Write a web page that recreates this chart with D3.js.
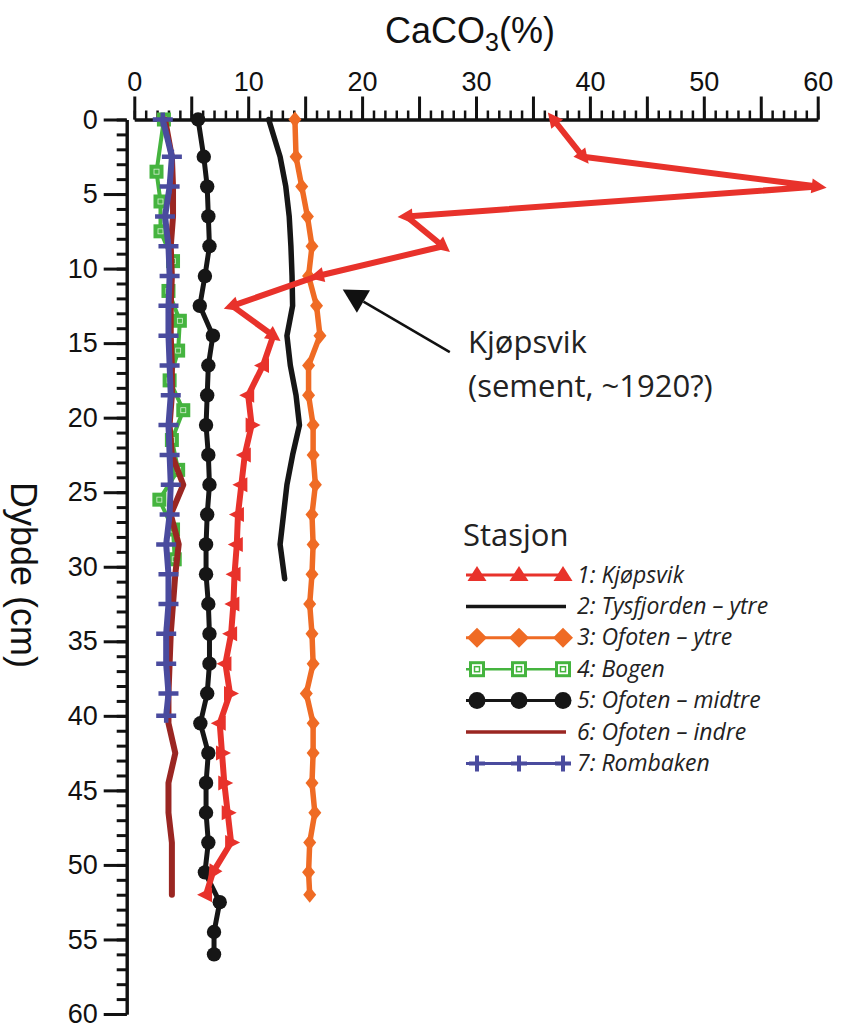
<!DOCTYPE html>
<html><head><meta charset="utf-8">
<script src="https://cdn.jsdelivr.net/npm/d3@7"></script>
<style>
html,body{margin:0;padding:0;background:#fff;}
svg{display:block;}
</style></head>
<body>
<svg id="chart" width="841" height="1028"></svg>
<script>
// ---------------- DATA ----------------
const xTickMajor = [0,5,10,15,20,25,30,35,40,45,50,55,60];
const xTickLabels = [0,10,20,30,40,50,60];
const yTickMajor = [0,5,10,15,20,25,30,35,40,45,50,55,60];

const stationNames = ["1: Kjøpsvik","2: Tysfjorden – ytre","3: Ofoten – ytre","4: Bogen","5: Ofoten – midtre","6: Ofoten – indre","7: Rombaken"];

// depths (cm)
const depthA = [0,2.5,4.5,6.5,8.5,10.5,12.5,14.5,16.5,18.5,20.5,22.5,24.5,26.5,28.5,30.5,32.5,34.5,36.5,38.5,40.5,42.5,44.5,46.5,48.5,50.5,52];
const depthTys = [0,2.5,4.5,6.5,8.5,10.5,12.5,14.5,16.5,18.5,20.5,22.5,24.5,26.5,28.5,30.8];
const depthBogen = [0,3.5,5.5,7.5,9.5,11.5,13.5,15.5,17.5,19.5,21.5,23.5,25.5,27.5,29.5];
const depthMid = [0,2.5,4.5,6.5,8.5,10.5,12.5,14.5,16.5,18.5,20.5,22.5,24.5,26.5,28.5,30.5,32.5,34.5,36.5,38.5,40.5,42.5,44.5,46.5,48.5,50.5,52.5,54.5,56];
const depthRom = [0,2.5,4.5,6.5,8.5,10.5,12.5,14.5,16.5,18.5,20.5,22.5,24.5,26.5,28.5,30.5,32.5,34.5,36.5,38.5,40];

// CaCO3 (%)
const kjopsvik = [36.8,39.4,60.0,23.9,27.1,16.1,8.6,12.2,11.3,10.0,10.3,9.7,9.4,9.1,9.0,8.8,8.7,8.5,8.0,8.4,7.5,7.7,7.9,8.2,8.5,6.9,6.3];
const tysfjorden = [11.8,12.8,13.3,13.6,13.75,13.85,13.9,13.4,13.7,14.2,14.5,13.9,13.4,13.1,12.8,13.2];
const ofotenYtre = [14.1,14.2,14.7,15.2,15.6,15.3,16.0,16.3,15.3,15.3,15.7,15.7,15.9,15.6,15.7,15.6,15.4,15.6,15.7,15.1,15.7,15.7,15.6,15.85,15.4,15.3,15.4];
const bogen = [2.6,1.95,2.3,2.3,3.4,3.0,4.0,3.85,3.1,4.3,3.3,3.85,2.2,3.4,3.55];
const ofotenMidtre = [5.6,6.1,6.4,6.5,6.6,6.2,5.75,6.9,6.5,6.4,6.3,6.5,6.6,6.4,6.3,6.3,6.5,6.6,6.6,6.4,5.8,6.5,6.3,6.3,6.5,6.2,7.5,7.0,7.0];
const ofotenIndre = [2.7,3.3,3.4,3.4,3.2,3.3,3.2,3.2,3.3,3.3,3.1,3.3,4.3,3.2,3.9,3.6,3.4,3.2,3.1,3.0,3.0,3.6,3.0,3.0,3.3,3.3,3.3];
const rombaken = [2.5,3.3,3.1,2.7,3.0,3.1,3.0,3.0,3.1,3.2,3.0,3.1,3.2,3.1,2.8,3.0,3.0,2.8,2.8,3.0,2.8];

// annotation (value %, depth cm)
const annotTip = [18.3, 11.4];
const annotTail = [27.7, 15.6];
const annotText = ["Kjøpsvik", "(sement, ~1920?)"];
const annotTextPos = [29.3, 15.6];

// ---------------- DRAW ----------------
const svg = d3.select("#chart");
const x = d3.scaleLinear().domain([0,60]).range([134.3,817.7]);
const y = d3.scaleLinear().domain([0,60]).range([119.5,1014]);
const yAxisX = 126.7;

const AX = "'Liberation Sans', Arial, sans-serif";
const MY = "'Open Sans', 'Noto Sans', sans-serif";

// X axis (top)
const gx = svg.append("g").attr("transform",`translate(0,${y(0)})`);
gx.call(d3.axisTop(x).tickValues(d3.range(0,61,1)).tickSize(9).tickSizeOuter(0).tickFormat(""));
gx.call(g=>g.selectAll(".tick line").attr("stroke-width",2.5));
const gx2 = svg.append("g").attr("transform",`translate(0,${y(0)})`);
gx2.call(d3.axisTop(x).tickValues(xTickMajor).tickSize(23).tickSizeOuter(0).tickPadding(6)
  .tickFormat(d=> xTickLabels.includes(d) ? d : ""));
[gx,gx2].forEach(g=>{
  g.select(".domain").attr("stroke","#111").attr("stroke-width",3);
  g.selectAll(".tick line").attr("stroke","#111");
});
gx2.selectAll(".tick line").attr("stroke-width",3);
gx2.selectAll("text").attr("font-family",AX).attr("font-size",27).attr("fill","#111");

// Y axis (left)
const gy = svg.append("g").attr("transform",`translate(${yAxisX},0)`);
gy.call(d3.axisLeft(y).tickValues(d3.range(0,61,1)).tickSize(10).tickSizeOuter(0).tickFormat(""));
gy.selectAll(".tick line").attr("stroke-width",3);
const gy2 = svg.append("g").attr("transform",`translate(${yAxisX},0)`);
gy2.call(d3.axisLeft(y).tickValues(yTickMajor).tickSize(23).tickSizeOuter(0).tickPadding(6));
[gy,gy2].forEach(g=>{
  g.select(".domain").attr("stroke","#111").attr("stroke-width",3);
  g.selectAll(".tick line").attr("stroke","#111");
});
gy2.selectAll(".tick line").attr("stroke-width",3);
gy2.selectAll("text").attr("font-family",AX).attr("font-size",27).attr("fill","#111");

// Axis titles
const title = svg.append("text").attr("x",470).attr("y",43).attr("text-anchor","middle")
  .attr("font-family",AX).attr("font-size",36).attr("fill","#111");
title.append("tspan").text("CaCO");
title.append("tspan").attr("font-size",25).attr("dy",8).text("3");
title.append("tspan").attr("dy",-8).text("(%)");

svg.append("text").attr("transform","translate(11,575) rotate(90)")
  .attr("text-anchor","middle").attr("font-family",AX).attr("font-size",36).attr("fill","#111")
  .text("Dybde (cm)");

// colors
const C = {red:"#e8322b", black:"#161616", orange:"#ef6b24", green:"#45b43f", darkred:"#9a2622", blue:"#4a4b9e"};

const line = d3.line().x(d=>x(d[0])).y(d=>y(d[1]));
const zip = (v,d)=>v.map((val,i)=>[val,d[i]]);

const plot = svg.append("g");

function drawLine(pts,color,w){
  plot.append("path").attr("d",line(pts)).attr("fill","none").attr("stroke",color)
    .attr("stroke-width",w).attr("stroke-linejoin","round").attr("stroke-linecap","round");
}

// 2: Tysfjorden
const tysPts = zip(tysfjorden, depthTys);
drawLine(tysPts, C.black, 5.5);

// 3: Ofoten ytre
const oyPts = zip(ofotenYtre, depthA);
drawLine(oyPts, C.orange, 5.5);
plot.append("g").selectAll("path").data(oyPts).join("path")
  .attr("transform",d=>`translate(${x(d[0])},${y(d[1])})`)
  .attr("d","M0,-8L6.5,0L0,8L-6.5,0Z").attr("fill",C.orange);

// 4: Bogen
const bgPts = zip(bogen, depthBogen);
drawLine(bgPts, C.green, 4);
const bgG = plot.append("g").selectAll("g").data(bgPts).join("g")
  .attr("transform",d=>`translate(${x(d[0])},${y(d[1])})`);
bgG.append("rect").attr("x",-7).attr("y",-7).attr("width",14).attr("height",14).attr("fill",C.green);
bgG.append("rect").attr("x",-2.5).attr("y",-2.5).attr("width",5).attr("height",5).attr("fill","none")
  .attr("stroke","#d9efd5").attr("stroke-width",0.8);

// 6: Ofoten indre
const oiPts = zip(ofotenIndre, depthA);
drawLine(oiPts, C.darkred, 6);

// 7: Rombaken
const rbPts = zip(rombaken, depthRom);
drawLine(rbPts, C.blue, 6);
plot.append("g").selectAll("path").data(rbPts).join("path")
  .attr("transform",d=>`translate(${x(d[0])},${y(d[1])})`)
  .attr("d","M-10,0H10M0,-7V7").attr("stroke",C.blue).attr("stroke-width",4.5);

// 5: Ofoten midtre
const omPts = zip(ofotenMidtre, depthMid);
drawLine(omPts, C.black, 5);
plot.append("g").selectAll("circle").data(omPts).join("circle")
  .attr("cx",d=>x(d[0])).attr("cy",d=>y(d[1])).attr("r",7.2).attr("fill",C.black);

// 1: Kjøpsvik
const kjPts = zip(kjopsvik, depthA);
drawLine(kjPts, C.red, 6);
const px = kjPts.map(d=>[x(d[0]),y(d[1])]);
const angles = px.map((p,i)=>{
  let q = i===0 ? px[1] : px[i-1];
  let dx = p[0]-q[0], dy = p[1]-q[1];
  if (i===0 || Math.abs(dx) > 0.5*Math.abs(dy)) return Math.atan2(dy,dx)*180/Math.PI;
  return dx>=0 ? 0 : 180;
});
plot.append("g").selectAll("path").data(kjPts).join("path")
  .attr("transform",(d,i)=>`translate(${px[i][0]},${px[i][1]}) rotate(${angles[i]})`)
  .attr("d","M9,0L-6,-7.5L-6,7.5Z").attr("fill",C.red);

// annotation arrow
const tip=[x(annotTip[0]),y(annotTip[1])], tail=[x(annotTail[0]),y(annotTail[1])];
const ang = Math.atan2(tip[1]-tail[1], tip[0]-tail[0]);
const headLen = 24, headW = 13;
const base=[tip[0]-headLen*Math.cos(ang), tip[1]-headLen*Math.sin(ang)];
svg.append("line").attr("x1",tail[0]).attr("y1",tail[1]).attr("x2",base[0]).attr("y2",base[1])
  .attr("stroke","#111").attr("stroke-width",2.5);
svg.append("path").attr("d",`M${tip[0]},${tip[1]}L${base[0]+headW*Math.sin(ang)},${base[1]-headW*Math.cos(ang)}L${base[0]-headW*Math.sin(ang)},${base[1]+headW*Math.cos(ang)}Z`)
  .attr("fill","#111");
const at = svg.append("text").attr("font-family",MY).attr("font-size",31).attr("fill","#222");
at.append("tspan").attr("x",x(annotTextPos[0])).attr("y",y(annotTextPos[1])+1).text(annotText[0]);
at.append("tspan").attr("x",x(annotTextPos[0])).attr("dy",44).text(annotText[1]);

// legend
const lg = svg.append("g");
lg.append("text").attr("x",463).attr("y",546).attr("font-family",MY).attr("font-size",31).attr("fill","#222").text("Stasjon");
const rowY0 = 575, rowH = 31.4, lx0 = 466, lx1 = 566, mks=[477,519,563];
const legendStyle = [
  {c:C.red, w:3, m:"tri"},
  {c:C.black, w:3.5, m:null},
  {c:C.orange, w:3, m:"dia"},
  {c:C.green, w:2.5, m:"sq"},
  {c:C.black, w:3, m:"circ"},
  {c:C.darkred, w:3.5, m:null},
  {c:C.blue, w:3, m:"cross"}
];
stationNames.forEach((name,i)=>{
  const yy = rowY0 + i*rowH;
  const s = legendStyle[i];
  lg.append("line").attr("x1",lx0).attr("x2",lx1).attr("y1",yy).attr("y2",yy).attr("stroke",s.c).attr("stroke-width",s.w);
  mks.forEach(mx=>{
    if(s.m==="tri") lg.append("path").attr("d",`M${mx},${yy-9}L${mx+9.5},${yy+6}L${mx-9.5},${yy+6}Z`).attr("fill",s.c);
    if(s.m==="dia") lg.append("path").attr("d",`M${mx},${yy-10}L${mx+10},${yy}L${mx},${yy+10}L${mx-10},${yy}Z`).attr("fill",s.c);
    if(s.m==="sq"){
      lg.append("rect").attr("x",mx-6.5).attr("y",yy-6.5).attr("width",13).attr("height",13).attr("fill","#fff").attr("stroke",s.c).attr("stroke-width",3);
      lg.append("rect").attr("x",mx-2.5).attr("y",yy-2.5).attr("width",5).attr("height",5).attr("fill","none").attr("stroke",s.c).attr("stroke-width",1.5);
    }
    if(s.m==="circ") lg.append("circle").attr("cx",mx).attr("cy",yy).attr("r",8.5).attr("fill",s.c);
    if(s.m==="cross") lg.append("path").attr("d",`M${mx-8},${yy}H${mx+8}M${mx},${yy-8}V${yy+8}`).attr("stroke",s.c).attr("stroke-width",4);
  });
  lg.append("text").attr("x",577).attr("y",yy+7.5).attr("font-family",MY).attr("font-style","italic")
    .attr("font-size",23).attr("fill","#222").text(name);
});
</script>
</body></html>
